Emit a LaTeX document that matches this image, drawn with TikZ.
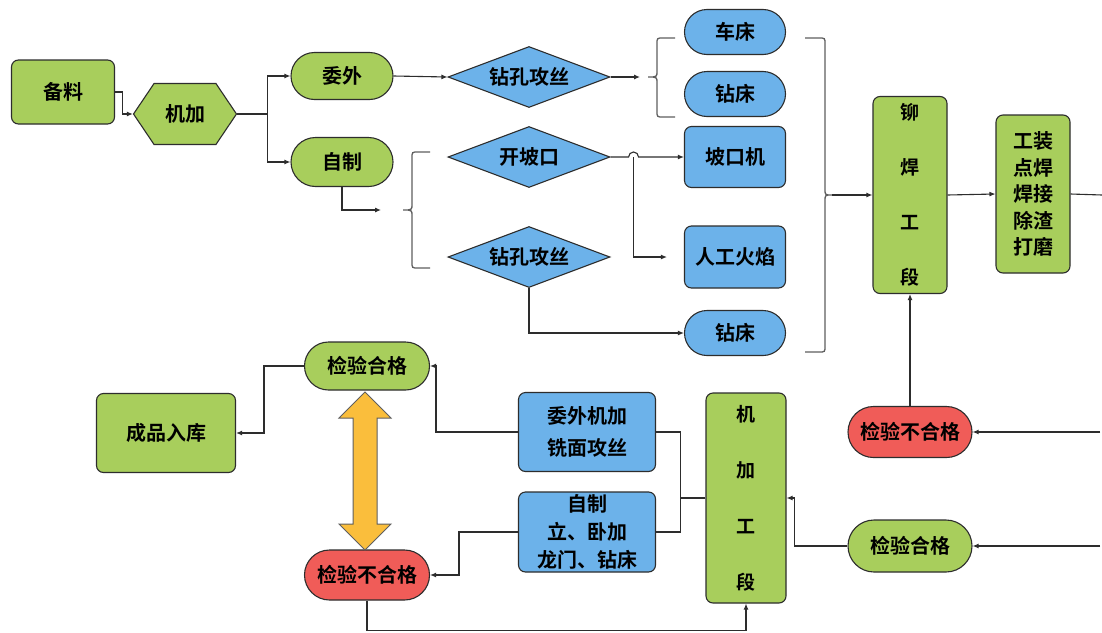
\documentclass[tikz,border=0pt]{standalone}
\usepackage{fontspec}
\newfontfamily\cjk{Noto Sans CJK SC Bold}
\usetikzlibrary{shapes.geometric,shapes.symbols,arrows.meta}
\definecolor{cgreen}{RGB}{168,206,92}
\definecolor{cblue}{RGB}{108,178,234}
\definecolor{cred}{RGB}{240,92,88}
\definecolor{cyel}{RGB}{250,190,60}
\definecolor{cline}{RGB}{45,45,45}
\definecolor{cbrace}{RGB}{95,95,95}
\begin{document}
\begin{tikzpicture}[x=1pt,y=-1pt,
  every node/.style={font=\cjk\fontsize{20}{24}\selectfont, text=black},
  shp/.style={draw=cline, line width=1.1pt, inner sep=0pt, align=center},
  rbox/.style={shp, rectangle, rounded corners=7pt},
  gbox/.style={rbox, fill=cgreen},
  bbox/.style={rbox, fill=cblue},
  pill/.style={shp, rectangle, rounded corners=#1},
  dia/.style={shp, diamond, aspect=2.65, fill=cblue, minimum width=162pt, minimum height=61pt},
  conn/.style={draw=cline, line width=1.1pt, -{Latex[length=6pt,width=5pt]}},
  plain/.style={draw=cline, line width=1.1pt},
  bracepath/.style={draw=cbrace, line width=1.3pt}
]
\useasboundingbox[fill=white] (0,0) rectangle (1102,632);

% top row nodes
\node[gbox, minimum width=103pt, minimum height=64pt] (bl) at (63,92) {备料};
\node[shp, signal, signal to=east and west, signal pointer angle=112, fill=cgreen,
      minimum width=103pt, minimum height=61pt] (jj) at (185,114) {机加};
\node[pill=23.5pt, fill=cgreen, minimum width=102pt, minimum height=47pt] (ww) at (342,76) {委外};
\node[pill=24.5pt, fill=cgreen, minimum width=102pt, minimum height=49pt] (zz) at (342,162) {自制};
\node[dia] (zk1) at (529,77) {钻孔攻丝};
\node[dia] (kpk) at (529,157) {开坡口};
\node[dia] (zk2) at (529,257) {钻孔攻丝};
\node[pill=22.5pt, fill=cblue, minimum width=101pt, minimum height=45pt] (cc) at (735,32) {车床};
\node[pill=22.5pt, fill=cblue, minimum width=101pt, minimum height=45pt] (zc1) at (735,94) {钻床};
\node[bbox, minimum width=101pt, minimum height=61pt] (pkj) at (735,157) {坡口机};
\node[bbox, minimum width=101pt, minimum height=62pt] (rgh) at (735,257) {人工火焰};
\node[pill=22.5pt, fill=cblue, minimum width=101pt, minimum height=45pt] (zc2) at (735,333) {钻床};
\node[gbox, minimum width=74pt, minimum height=197pt, font=\cjk\fontsize{19}{55}\selectfont] (mh) at (910,195) {铆\\焊\\工\\段};
\node[gbox, minimum width=74pt, minimum height=158pt, font=\cjk\fontsize{20}{26.5}\selectfont] (gz) at (1033,194) {工装\\点焊\\焊接\\除渣\\打磨};

% bottom nodes
\node[pill=25.5pt, fill=cred, minimum width=124pt, minimum height=51pt] (rr) at (910,432) {检验不合格};
\node[pill=26pt, fill=cgreen, minimum width=124pt, minimum height=52pt] (gr) at (910,546) {检验合格};
\node[gbox, minimum width=80pt, minimum height=210pt, font=\cjk\fontsize{19}{56}\selectfont] (jg) at (746,498) {机\\加\\工\\段};
\node[bbox, minimum width=137pt, minimum height=79pt, font=\cjk\fontsize{20}{32}\selectfont] (wj) at (587,432) {委外机加\\铣面攻丝};
\node[bbox, minimum width=137pt, minimum height=80pt, font=\cjk\fontsize{20}{28}\selectfont] (zj) at (587,532) {自制\\立、卧加\\龙门、钻床};
\node[pill=24pt, fill=cgreen, minimum width=125pt, minimum height=48pt] (hgL) at (367,366) {检验合格};
\node[pill=25pt, fill=cred, minimum width=125pt, minimum height=50pt] (rL) at (367,575) {检验不合格};
\node[gbox, minimum width=139pt, minimum height=79pt] (cp) at (166,433) {成品入库};

% braces
\coordinate (b1tip) at (648,77);
\coordinate (b2tip) at (403,210);
\coordinate (b3tip) at (832,195);
\draw[bracepath] (675,38) -- (663,38) .. controls (657,38) .. (657,44) -- (657,71)
  .. controls (657,77) .. (b1tip) .. controls (657,77) .. (657,83) -- (657,111)
  .. controls (657,117) .. (663,117) -- (675,117);
\draw[bracepath] (430,152) -- (418,152) .. controls (412,152) .. (412,158) -- (412,204)
  .. controls (412,210) .. (b2tip) .. controls (412,210) .. (412,216) -- (412,262)
  .. controls (412,268) .. (418,268) -- (430,268);
\draw[bracepath] (805,38) -- (819,38) .. controls (825,38) .. (825,44) -- (825,189)
  .. controls (825,195) .. (b3tip) .. controls (825,195) .. (825,201) -- (825,346)
  .. controls (825,352) .. (819,352) -- (805,352);

% connectors top
\draw[conn] (bl.east) -- ++(7,0) |- (jj.west);
\draw[conn] (jj.east) -- ++(30,0) |- (ww.west);
\draw[conn] (jj.east) -- ++(30,0) |- (zz.west);
\draw[conn] (ww.east) -- (zk1.west);
\draw[conn, shorten >=8pt] (zk1.east) -- (b1tip);
\draw[conn, shorten >=22pt] (zz.south) |- (b2tip);
\draw[conn] (kpk.east) -- ++(18,0) arc[start angle=180, end angle=0, radius=5pt] -- (pkj.west);
\draw[conn, shorten >=17pt] (kpk.east) ++(23,0) |- (rgh.west);
\draw[conn] (zk2.south) |- (zc2.west);
\draw[conn] (b3tip) -- (mh.west);
\draw[conn] (mh.east) -- (gz.west);
\coordinate (outR) at (1102,195);
\draw[plain] (gz.east) -- (outR);

% connectors bottom
\coordinate (inR) at (1100,432);
\coordinate (inG) at (1100,546);
\draw[conn] (inR) -- (rr.east);
\draw[conn] (inG) -- (gr.east);
\draw[conn] (rr.north) -- (mh.south);
\draw[conn] (gr.west) -- ++(-53,0) |- (jg.east);
\draw[plain] (jg.west) -- ++(-25,0) |- (wj.east);
\draw[plain] (jg.west) -- ++(-25,0) |- (zj.east);
\draw[conn] (wj.west) -- ++(-82,0) |- (hgL.east);
\draw[conn] (zj.west) -- ++(-59,0) |- (rL.east);
\draw[conn] (hgL.west) -- ++(-40,0) |- (cp.east);
\draw[conn] (rL.south) -- ++(0,30) -| (jg.south);

% yellow double arrow
\draw[draw=cbrace, line width=1pt, fill=cyel] (365,392) -- (391,418) -- (377,418) -- (377,524)
  -- (391,524) -- (365,550) -- (339,524) -- (353,524) -- (353,418) -- (339,418) -- cycle;
\end{tikzpicture}
\end{document}
